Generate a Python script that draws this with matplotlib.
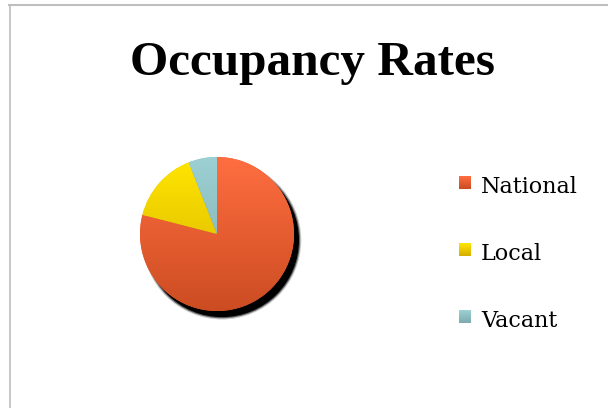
import matplotlib
matplotlib.use("Agg")
import matplotlib.pyplot as plt
import numpy as np
from matplotlib.patches import Circle
from matplotlib.colors import LinearSegmentedColormap

categories = ["National", "Local", "Vacant"]
values = [79, 15, 6]
top_colors = ["#FF6E40", "#FFE600", "#9CD0D2"]
bottom_colors = ["#CC4C22", "#D6AE00", "#7DABAF"]
mid_colors = ["#EE6233", "#F0CC00", "#8DBEC1"]

W, H = 608, 408
fig = plt.figure(figsize=(W / 100, H / 100), dpi=100)

# frame lines (only top and left show)
fig.add_artist(plt.Line2D([9 / W, 1], [1 - 4.5 / H, 1 - 4.5 / H], color="#BEBEBE", lw=1.5))
fig.add_artist(plt.Line2D([9.5 / W, 9.5 / W], [0, 1 - 4.5 / H], color="#BEBEBE", lw=1.2))

fig.text(313 / W, 1 - 75 / H, "Occupancy Rates", ha="center", va="baseline",
         fontsize=35.5, fontweight="bold", family="Liberation Serif")

# pie
cx, cy, r = 217, 234, 77
ax = fig.add_axes([(cx - r) / W, (H - cy - r) / H, 2 * r / W, 2 * r / H])
ax.axis("off")

# shadow
for k, a in enumerate([0.2, 0.5, 1.0]):
    ax.add_patch(Circle((0.065, -0.08), 1.0 + 0.015 * (2 - k), color="black", alpha=a,
                        clip_on=False, zorder=0, lw=0))

wedges, _ = ax.pie(values, startangle=90, counterclock=False, colors=mid_colors,
                   radius=1.0, wedgeprops=dict(linewidth=0))
for w in wedges:
    w.set_zorder(1)
for w, tc, bc in zip(wedges, top_colors, bottom_colors):
    cmap = LinearSegmentedColormap.from_list("g", [bc, tc])
    grad = np.linspace(0, 1, 256).reshape(-1, 1)
    im = ax.imshow(grad, cmap=cmap, extent=[-1, 1, -1, 1], origin="lower",
                   aspect="auto", zorder=2)
    im.set_clip_path(w)
ax.set_xlim(-1, 1)
ax.set_ylim(-1, 1)
ax.set_aspect("equal")

# legend
baselines = [193, 260, 327]
for name, tc, bc, yb in zip(categories, top_colors, bottom_colors, baselines):
    sq = fig.add_axes([459 / W, (H - yb + 4) / H, 12 / W, 13 / H])
    cmap = LinearSegmentedColormap.from_list("g", [bc, tc])
    sq.imshow(np.linspace(0, 1, 32).reshape(-1, 1), cmap=cmap, origin="lower",
              aspect="auto", extent=[0, 1, 0, 1])
    sq.axis("off")
    fig.text(481 / W, 1 - yb / H, name, ha="left", va="baseline",
             fontsize=16, family="DejaVu Serif")

fig.savefig("out.png", dpi=100)
